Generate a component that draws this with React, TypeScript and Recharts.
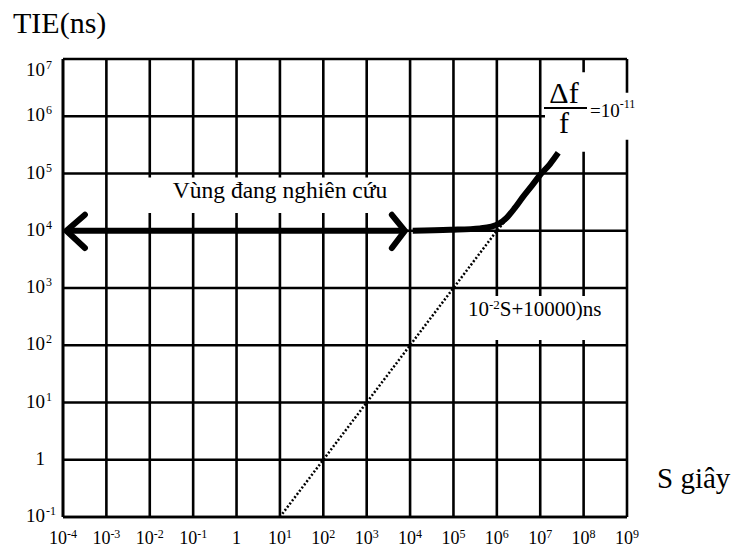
import React from "react";
import {
  LineChart,
  Line,
  XAxis,
  YAxis,
  CartesianGrid,
  ReferenceArea,
} from "recharts";

// axis ticks (S in seconds, TIE in ns), log scales
const xTicks = [1e-4, 1e-3, 1e-2, 1e-1, 1, 1e1, 1e2, 1e3, 1e4, 1e5, 1e6, 1e7, 1e8, 1e9];
const xTickLabels = [
  "10^-4", "10^-3", "10^-2", "10^-1", "1", "10^1", "10^2",
  "10^3", "10^4", "10^5", "10^6", "10^7", "10^8", "10^9",
];
const yTicks = [1e-1, 1, 1e1, 1e2, 1e3, 1e4, 1e5, 1e6, 1e7];
const yTickLabels = ["10^-1", "1", "10^1", "10^2", "10^3", "10^4", "10^5", "10^6", "10^7"];

// double arrow of the research region
const regionS = [1.2e-4, 7.6e3];
const regionTIE = [1e4, 1e4];
const leftHeadS = [3.2e-4, 1.2e-4, 3.2e-4];
const leftHeadTIE = [1.9e4, 1e4, 5.0e3];
const rightHeadS = [3.8e3, 7.6e3, 3.8e3];
const rightHeadTIE = [1.9e4, 1e4, 5.0e3];

// TIE limit curve
const limitS = [1.15e4, 8.3e4, 4.1e5, 7.5e5, 1.1e6, 1.7e6, 2.6e6, 4e6, 6.5e6, 1e7, 1.66e7, 2.6e7];
const limitTIE = [1e4, 1.04e4, 1.1e4, 1.18e4, 1.32e4, 1.7e4, 2.5e4, 3.9e4, 6.2e4, 9.5e4, 1.45e5, 2.3e5];

// dotted asymptote
const slopeS = [10, 100, 1e4, 1e6, 1.7e6];
const slopeTIE = [0.1, 1, 100, 1e4, 1.6e4];

const zip = (s: number[], t: number[]) => s.map((v, i) => ({ s: v, t: t[i] }));

const FONT = '"Liberation Serif", "Times New Roman", serif';

function splitLabel(label: string) {
  const [base, exp] = label.split("^");
  return { base, exp };
}

function XTick(props: any) {
  const { x, y, payload } = props;
  const i = xTicks.indexOf(payload.value);
  const { base, exp } = splitLabel(xTickLabels[i] ?? "");
  return (
    <text x={x} y={y + 27} textAnchor="middle" fontFamily={FONT} fontSize={18} fill="#000">
      {base}
      {exp && (
        <tspan dy={-6} fontSize={12}>
          {exp}
        </tspan>
      )}
    </text>
  );
}

function YTick(props: any) {
  const { x, y, payload } = props;
  const i = yTicks.indexOf(payload.value);
  const { base, exp } = splitLabel(yTickLabels[i] ?? "");
  const dy = i === yTicks.length - 1 ? 17 : 5;
  return (
    <g>
      <text x={x - 18} y={y + dy} textAnchor="end" fontFamily={FONT} fontSize={19} fill="#000">
        {base}
      </text>
      {exp && (
        <text x={x - 17} y={y + dy - 7} fontFamily={FONT} fontSize={12} fill="#000">
          {exp}
        </text>
      )}
    </g>
  );
}

export default function App() {
  return (
    <div style={{ position: "absolute", left: 0, top: 0, width: 736, height: 553, background: "#fff", fontFamily: FONT }}>
      <LineChart
        width={736}
        height={553}
        margin={{ top: 59, right: 109, bottom: 6, left: 13 }}
      >
        <CartesianGrid stroke="#000" strokeWidth={2.6} />
        <XAxis
          type="number"
          dataKey="s"
          scale="log"
          domain={[1e-4, 1e9]}
          ticks={xTicks}
          allowDataOverflow
          height={30}
          tickSize={0}
          tickMargin={0}
          tickLine={false}
          axisLine={{ stroke: "#000", strokeWidth: 2.6 }}
          tick={<XTick />}
          interval={0}
        />
        <YAxis
          type="number"
          dataKey="t"
          scale="log"
          domain={[1e-1, 1e7]}
          ticks={yTicks}
          allowDataOverflow
          width={50}
          tickSize={0}
          tickMargin={0}
          tickLine={false}
          axisLine={{ stroke: "#000", strokeWidth: 2.6 }}
          tick={<YTick />}
          interval={0}
        />
        {/* white label backgrounds */}
        <ReferenceArea x1={10 ** -2.23} x2={10 ** 3.77} y1={10 ** 4.31} y2={10 ** 4.93} fill="#fff" fillOpacity={1} stroke="none" ifOverflow="visible" />
        <ReferenceArea x1={10 ** 7.11} x2={10 ** 8.37} y1={10 ** 5.38} y2={10 ** 6.77} fill="#fff" fillOpacity={1} stroke="none" ifOverflow="visible" />
        <ReferenceArea x1={10 ** 8.1} x2={10 ** 9.3} y1={10 ** 5.59} y2={10 ** 6.41} fill="#fff" fillOpacity={1} stroke="none" ifOverflow="visible" />
        <ReferenceArea x1={10 ** 5.1} x2={10 ** 8.88} y1={10 ** 2.09} y2={10 ** 2.86} fill="#fff" fillOpacity={1} stroke="none" ifOverflow="visible" />

        <Line data={zip(slopeS, slopeTIE)} dataKey="t" type="linear" stroke="#000" strokeWidth={2.5} strokeDasharray="2 2" dot={false} activeDot={false} isAnimationActive={false} />
        <Line data={zip(regionS, regionTIE)} dataKey="t" type="linear" stroke="#000" strokeWidth={6} dot={false} activeDot={false} isAnimationActive={false} />
        <Line data={zip(leftHeadS, leftHeadTIE)} dataKey="t" type="linear" stroke="#000" strokeWidth={6} strokeLinecap="round" dot={false} activeDot={false} isAnimationActive={false} />
        <Line data={zip(rightHeadS, rightHeadTIE)} dataKey="t" type="linear" stroke="#000" strokeWidth={6} strokeLinecap="round" dot={false} activeDot={false} isAnimationActive={false} />
        <Line data={zip(limitS, limitTIE)} dataKey="t" type="monotone" stroke="#000" strokeWidth={6} dot={false} activeDot={false} isAnimationActive={false} />
      </LineChart>

      <svg width={736} height={553} style={{ position: "absolute", left: 0, top: 0, pointerEvents: "none" }}>
        <g fontFamily={FONT} fill="#000">
          <text x={13} y={33} fontSize={30}>TIE(ns)</text>
          <text x={657} y={488} fontSize={29}>S giây</text>
          <text x={280} y={198} fontSize={23.5} textAnchor="middle">Vùng đang nghiên cứu</text>
          <text x={468} y={316} fontSize={21}>
            10<tspan dy={-7} fontSize={13}>-2</tspan>
            <tspan dy={7}>S+10000)ns</tspan>
          </text>
          <text x={564} y={103} fontSize={30} textAnchor="middle">Δf</text>
          <line x1={544} x2={587} y1={108} y2={108} stroke="#000" strokeWidth={2} />
          <text x={564} y={133} fontSize={30} textAnchor="middle">f</text>
          <text x={590} y={117} fontSize={19}>
            =10<tspan dy={-9} fontSize={12}>-11</tspan>
          </text>
        </g>
      </svg>
    </div>
  );
}
